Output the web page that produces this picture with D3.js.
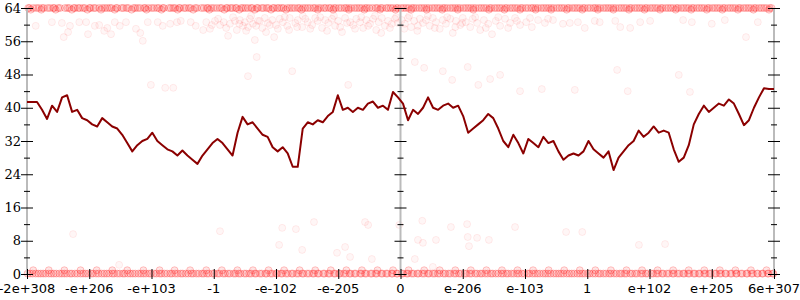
<!DOCTYPE html>
<html><head><meta charset="utf-8">
<script src="https://cdn.jsdelivr.net/npm/d3@7"></script>
<style>
html,body{margin:0;padding:0;background:#fff;}
svg{display:block;}
</style></head>
<body>
<script>
// ---- DATA ----
const xTickLabels = ["-2e+308","-e+206","-e+103","-1","-e-102","-e-205","0","e-206","e-103","1","e+102","e+205","6e+307"];
const yTicks = [0,4,8,12,16,20,24,28,32,36,40,44,48,52,56,60,64];
const yLabelTicks = [0,8,16,24,32,40,48,56,64];

// moving-average line, evenly sampled from left edge to right edge
const lineValues = [
41.4,41.4,41.4,39.5,37.3,40.5,39,42.5,43,39,39.5,37.5,37,36,35.5,37.5,36.5,35.5,35,33.5,
31.5,29.5,31,32,32.5,34,32,31,30,29.5,28.5,29.7,28.5,27.5,26.5,28.5,30,31.5,32.5,31.5,
30,28.5,34,37.8,36,36.5,35,33.5,33,30.5,29.5,30.5,29,25.8,25.8,35,36.5,36,37,36.5,
38,39,43,39.5,40,39,40,39.5,41,41.5,40,40.5,39.5,43.8,42.5,41,37,39.5,38.5,40,
42.5,40,39.5,40.5,41,40,40.5,38,34,35,36,37,38.5,37.5,35,32,30.5,33.5,31.5,29,
32.5,31.5,30.5,33,31.5,32,29.5,27.5,28.5,29,28.5,29.5,32,30,29,28,29.5,25,28,29.5,
31,32,34.5,33,34,35.5,34,34.5,34,30,27,28,31,36,38.5,40.5,39,40,41,40.5,
42,41,38.5,35.8,37,40,42.5,44.7,44.5,44.5
];

// saturated rows of samples — x in tick-index units
const topRowX = [0.02,0.1,0.19,0.27,0.33,0.42,0.5,0.61,0.68,0.77,0.85,0.93,1.02,1.1,1.21,1.29,1.36,1.45,1.52,1.63,1.71,1.78,1.88,1.95,2.04,2.12,2.2,2.31,2.38,2.46,2.55,2.63,2.7,2.8,2.89,2.96,3.05,3.13,3.22,3.3,3.37,3.47,3.55,3.62,3.71,3.8,3.88,3.97,4.05,4.12,4.22,4.3,4.38,4.47,4.55,4.63,4.72,4.8,4.88,4.96,5.05,5.13,5.21,5.3,5.38,5.46,5.55,5.63,5.71,5.8,5.88,5.96,6.05,6.13,6.21,6.3,6.38,6.46,6.55,6.63,6.71,6.8,6.88,6.96,7.05,7.13,7.21,7.3,7.38,7.46,7.55,7.63,7.71,7.8,7.88,7.96,8.05,8.13,8.21,8.3,8.38,8.46,8.55,8.63,8.71,8.8,8.88,8.96,9.05,9.13,9.21,9.3,9.38,9.46,9.55,9.63,9.71,9.8,9.88,9.96,10.05,10.13,10.21,10.3,10.38,10.46,10.55,10.63,10.71,10.8,10.88,10.96,11.05,11.13,11.21,11.3,11.38,11.46,11.55,11.63,11.71,11.8,11.88,11.96];
const topRow3X = [0.04,0.15,0.24,0.37,0.44,0.53,0.65,0.75,0.82,0.9,1.0,1.07,1.16,1.25,1.33,1.43,1.55,1.6,1.74,1.82,1.9,2.0,2.09,2.18,2.28,2.35,2.44,2.52,2.6,2.73,2.84,2.91,3.0,3.1,3.2,3.27,3.35,3.44,3.51,3.6,3.69,3.77,3.85,3.95,4.02,4.09,4.18,4.26,4.35,4.43,4.51,4.6,4.68,4.77,4.85,4.93,5.01,5.1,5.17,5.26,5.34,5.43,5.5,5.6,5.68,5.77,5.84,5.93,6.01,6.09,6.18,6.25,6.34,6.42,6.51,6.59,6.68,6.75,6.84,6.92,7.01,7.09,7.17,7.26,7.34,7.43,7.51,7.59,7.68,7.76,7.84,7.93,8.01,8.1,8.17,8.26,8.34,8.42,8.51,8.59,8.68,8.76,8.84,8.93,9.01,9.1,9.17,9.26,9.34,9.42,9.51,9.59,9.68,9.76,9.84,9.93,10.01,10.09,10.18,10.26,10.34,10.43,10.51,10.59,10.68,10.76,10.84,10.93,11.01,11.09,11.18,11.26,11.34,11.43,11.51,11.59,11.68,11.76,11.84,11.93];
const topRowValue = 64;
const topRow2X = [0.06,0.23,0.46,0.72,0.97,1.19,1.41,1.68,1.92,2.16,2.42,2.67,2.93,3.17,3.41,3.66,3.92,4.16,4.41,4.67,4.92,5.17,5.42,5.67,5.92,6.17,6.42,6.67,6.92,7.17,7.42,7.67,7.92,8.17,8.42,8.67,8.92,9.17,9.42,9.67,9.92,10.17,10.42,10.67,10.92,11.17,11.42,11.67,11.92];
const topRow2Value = 63.6;

const bottomRowX = [0.05,0.14,0.22,0.3,0.39,0.47,0.56,0.64,0.72,0.81,0.9,0.98,1.06,1.15,1.24,1.32,1.4,1.49,1.57,1.66,1.74,1.83,1.91,1.99,2.08,2.16,2.25,2.33,2.42,2.5,2.59,2.67,2.76,2.84,2.92,3.01,3.09,3.18,3.26,3.35,3.43,3.52,3.6,3.68,3.77,3.85,3.94,4.02,4.1,4.19,4.27,4.36,4.44,4.53,4.61,4.69,4.78,4.86,4.95,5.03,5.12,5.2,5.28,5.37,5.45,5.54,5.62,5.71,5.79,5.87,5.95,6.02,6.1,6.18,6.27,6.35,6.44,6.52,6.6,6.69,6.77,6.86,6.94,7.03,7.11,7.2,7.28,7.36,7.45,7.53,7.62,7.7,7.78,7.87,7.95,8.04,8.12,8.2,8.29,8.37,8.46,8.54,8.62,8.71,8.79,8.88,8.96,9.04,9.13,9.21,9.3,9.38,9.47,9.55,9.63,9.72,9.8,9.89,9.97,10.06,10.14,10.22,10.31,10.39,10.48,10.56,10.64,10.73,10.81,10.9,10.98,11.07,11.15,11.23,11.32,11.4,11.49,11.57,11.66,11.74,11.82,11.91,11.99];
const bottomRow3X = [0.01,0.09,0.18,0.26,0.35,0.43,0.52,0.6,0.69,0.77,0.86,0.94,1.03,1.11,1.2,1.28,1.37,1.45,1.54,1.62,1.7,1.79,1.87,1.96,2.04,2.13,2.21,2.3,2.38,2.47,2.55,2.64,2.72,2.81,2.89,2.98,3.06,3.15,3.23,3.32,3.4,3.49,3.57,3.66,3.74,3.83,3.91,4.0,4.08,4.16,4.25,4.33,4.42,4.5,4.59,4.67,4.76,4.84,4.93,5.01,5.09,5.18,5.26,5.35,5.43,5.52,5.6,5.69,5.77,5.86,5.94,6.04,6.12,6.21,6.29,6.38,6.46,6.55,6.63,6.72,6.8,6.89,6.97,7.06,7.14,7.23,7.31,7.4,7.48,7.57,7.65,7.73,7.82,7.9,7.99,8.07,8.16,8.24,8.33,8.41,8.5,8.58,8.67,8.75,8.84,8.92,9.01,9.09,9.18,9.26,9.35,9.43,9.52,9.6,9.69,9.77,9.86,9.94,10.03,10.11,10.2,10.28,10.37,10.45,10.54,10.62,10.71,10.79,10.88,10.96,11.05,11.13,11.22,11.3,11.39,11.47,11.56,11.64,11.73,11.81,11.9,11.98];
const bottomRowValue = 0.1;
const bottomRow2X = [0.1,0.35,0.6,0.86,1.12,1.37,1.61,1.87,2.13,2.37,2.62,2.88,3.13,3.38,3.63,3.88,4.13,4.38,4.63,4.88,5.13,5.38,5.63,5.88,6.13,6.38,6.63,6.88,7.13,7.38,7.63,7.88,8.13,8.38,8.63,8.88,9.13,9.38,9.63,9.88,10.13,10.38,10.63,10.88,11.13,11.38,11.63,11.88];
const bottomRow2Value = 0.9;

// scattered samples: [x (tick-index units), value]
const scatterPoints = [
[0.14,59.7],[0.40,60.6],[0.56,60.4],[0.59,57.0],[0.66,58.2],[0.69,59.7],[0.84,60.6],[0.95,60.6],[0.98,57.7],[1.09,59.7],
[1.16,59.9],[1.24,58.5],[1.29,59.2],[1.35,57.7],[1.41,60.6],[1.49,59.7],[1.59,60.6],[1.75,59.0],[1.82,58.0],[1.86,56.1],
[1.94,60.6],[2.10,60.6],[2.18,59.7],[2.30,60.2],[2.41,60.6],[2.47,60.9],[2.63,60.6],[2.71,59.7],[2.88,60.6],[2.94,59.0],
[3.02,60.9],[3.10,59.9],[3.16,60.6],[3.23,57.3],[3.26,60.2],[3.34,60.9],[3.37,58.7],[3.42,61.1],[3.47,59.7],[3.50,60.6],
[3.55,59.4],[3.58,61.4],[3.63,60.2],[3.66,56.3],[3.69,52.2],[3.55,47.6],[3.71,60.9],[3.78,59.2],[3.82,61.6],[3.87,60.4],
[3.94,61.1],[3.97,57.0],[4.00,59.9],[4.06,61.4],[4.11,60.6],[4.18,59.7],[4.22,61.6],[4.26,48.8],[4.31,60.4],[4.35,61.1],
[4.42,59.4],[4.47,61.4],[4.51,60.6],[4.58,59.9],[4.63,61.6],[4.67,60.9],[4.74,59.2],[4.79,61.1],[4.84,60.4],[4.90,61.4],
[4.95,59.7],[5.00,60.9],[5.06,58.2],[5.11,61.6],[5.16,45.5],[5.19,60.6],[5.24,59.9],[5.29,61.4],[5.35,60.6],[5.40,59.2],
[5.45,61.1],[5.51,60.2],[5.56,61.4],[5.61,58.7],[5.65,60.6],[5.70,61.6],[5.75,59.7],[5.80,60.9],[5.86,60.2],[5.91,61.4],
[5.96,60.4],[1.99,45.5],[2.22,44.8],[2.35,44.8],
[6.02,61.1],[6.07,60.2],[6.12,61.6],[6.17,59.4],[6.22,60.9],[6.27,58.5],[6.31,61.4],[6.36,60.4],[6.41,61.1],[6.47,59.7],
[6.52,61.6],[6.57,60.6],[6.63,59.0],[6.68,61.1],[6.73,60.2],[6.80,61.4],[6.84,58.0],[6.89,60.9],[6.96,59.9],[7.00,61.6],
[7.05,60.6],[7.12,59.4],[7.16,61.4],[7.23,60.4],[7.28,58.7],[7.34,61.1],[7.41,60.2],[7.47,57.7],[7.53,60.9],[7.60,59.7],
[7.68,61.4],[7.76,60.4],[7.84,61.6],[7.92,59.9],[8.02,60.6],[8.11,59.4],[8.21,61.1],[8.32,60.4],[8.45,61.1],[8.61,60.2],
[8.72,60.4],[8.85,60.6],[8.96,59.2],[9.12,60.9],[9.20,60.6],[9.45,60.9],[9.53,59.4],[9.69,59.2],[9.85,60.6],[10.01,60.9],
[10.54,61.1],[10.68,60.6],[11.00,60.2],[11.21,61.1],[11.55,57.0],[11.74,60.6],
[2.83,58.7],[2.97,59.9],[3.07,61.4],[3.20,59.2],[3.31,61.8],[3.41,60.2],[3.52,58.5],[3.60,62.1],[3.68,59.7],[3.74,60.9],
[3.84,58.2],[3.90,59.9],[4.03,59.0],[4.14,61.8],[4.21,58.7],[4.34,59.4],[4.43,62.1],[4.55,59.0],[4.71,61.8],[4.82,58.5],
[4.93,62.1],[5.03,59.4],[5.14,60.4],[5.27,59.0],[5.37,61.8],[5.48,59.7],[5.59,62.1],[5.69,58.0],[5.83,59.2],[5.93,61.8],
[6.06,59.0],[6.14,62.1],[6.28,59.7],[6.44,62.1],[6.55,59.2],[6.75,61.8],[6.88,59.4],[6.99,60.4],[7.20,61.8],[7.37,59.2],
[7.57,61.8],[7.73,59.2],[7.87,60.9],[8.08,61.6],[8.37,61.4],
[6.23,51.0],[6.38,49.6],[6.68,48.8],[6.83,46.7],[7.08,49.8],[7.25,45.5],[7.44,46.9],[7.60,47.9],[7.92,44.0],[8.27,44.5],
[8.80,44.3],[9.48,49.1],[9.65,44.0],[10.47,47.9],[10.65,43.8],
[0.74,9.6],[3.10,10.3],[4.10,11.1],[4.32,10.8],[4.61,12.5],[4.05,7.0],[4.42,5.8],[4.98,5.1],[5.11,6.5],[5.19,4.1],
[5.43,12.5],[5.48,11.8],[5.54,3.6],[5.98,11.8],[6.35,12.8],[6.81,11.3],[7.07,12.0],[7.42,8.2],[6.28,8.2],[6.36,7.5],
[6.57,8.2],[6.23,3.6],[6.52,1.7],[7.08,8.9],[7.23,8.7],[7.10,6.7],[7.84,11.3],[8.66,10.1],[8.92,10.1],[9.83,7.0],
[10.25,7.2],[1.48,2.2]
];

// ---- CHART ----
const W = 800, H = 300;
const svg = d3.select("body").append("svg").attr("width", W).attr("height", H);

const x = d3.scaleLinear().domain([0, xTickLabels.length - 1]).range([27, 774]);
const y = d3.scaleLinear().domain([0, 64]).range([274, 8]);
const xi = d3.scaleLinear().domain([0, lineValues.length - 1]).range(x.range());

// saturated rows (many coincident samples -> denser)
const rows = [];
topRowX.forEach(v => rows.push([v, topRowValue]));
topRow3X.forEach(v => rows.push([v, topRowValue]));
topRow2X.forEach(v => rows.push([v, topRow2Value]));
bottomRowX.forEach(v => rows.push([v, bottomRowValue]));
bottomRow3X.forEach(v => rows.push([v, bottomRowValue]));
bottomRow2X.forEach(v => rows.push([v, bottomRow2Value]));

svg.append("g").selectAll("circle").data(rows).join("circle")
  .attr("cx", d => x(d[0])).attr("cy", d => y(d[1])).attr("r", 3.5)
  .attr("fill", "red").attr("fill-opacity", 0.1)
  .attr("stroke", "red").attr("stroke-opacity", 0.22);

svg.append("g").selectAll("circle").data(scatterPoints).join("circle")
  .attr("cx", d => x(d[0])).attr("cy", d => y(d[1])).attr("r", 3.5)
  .attr("fill", "red").attr("fill-opacity", 0.035)
  .attr("stroke", "red").attr("stroke-opacity", 0.07);

// axes (vertical gray lines with crossing ticks)
const axisPositions = [0, 6, 12];
const axes = svg.append("g");
axisPositions.forEach(a => {
  const g = axes.append("g").attr("transform", `translate(${x(a)},0)`);
  g.append("line").attr("y1", y(64)).attr("y2", y(0)).attr("stroke", "#bbb").attr("stroke-width", 2);
  g.selectAll(".t").data(yTicks).join("line")
    .attr("x1", d => d % 8 === 0 ? -6 : -3)
    .attr("x2", d => d % 8 === 0 ? 6 : 3)
    .attr("y1", d => y(d) + 0.5).attr("y2", d => y(d) + 0.5)
    .attr("stroke", "#000");
});
axes.append("g").selectAll("text").data(yLabelTicks).join("text")
  .attr("x", x(0) - 6).attr("y", d => y(d)).attr("dy", "0.35em")
  .attr("text-anchor", "end")
  .style("font-family", "'DejaVu Serif', serif").style("font-size", "13px")
  .text(d => d);

// x axis
const xg = svg.append("g");
xg.selectAll("line").data(xTickLabels).join("line")
  .attr("x1", (d, i) => x(i) + 0.5).attr("x2", (d, i) => x(i) + 0.5)
  .attr("y1", y(0) - 5).attr("y2", y(0) + 5).attr("stroke", "#000");
xg.selectAll("text").data(xTickLabels).join("text")
  .attr("x", (d, i) => x(i)).attr("y", y(0) + 19)
  .attr("text-anchor", "middle")
  .style("font-family", "'DejaVu Sans', sans-serif").style("font-size", "13px")
  .text(d => d);

// line
svg.append("path").datum(lineValues)
  .attr("fill", "none").attr("stroke", "darkred").attr("stroke-width", 2)
  .attr("stroke-linejoin", "round")
  .attr("d", d3.line().x((d, i) => xi(i)).y(d => y(d)));
</script>
</body></html>
